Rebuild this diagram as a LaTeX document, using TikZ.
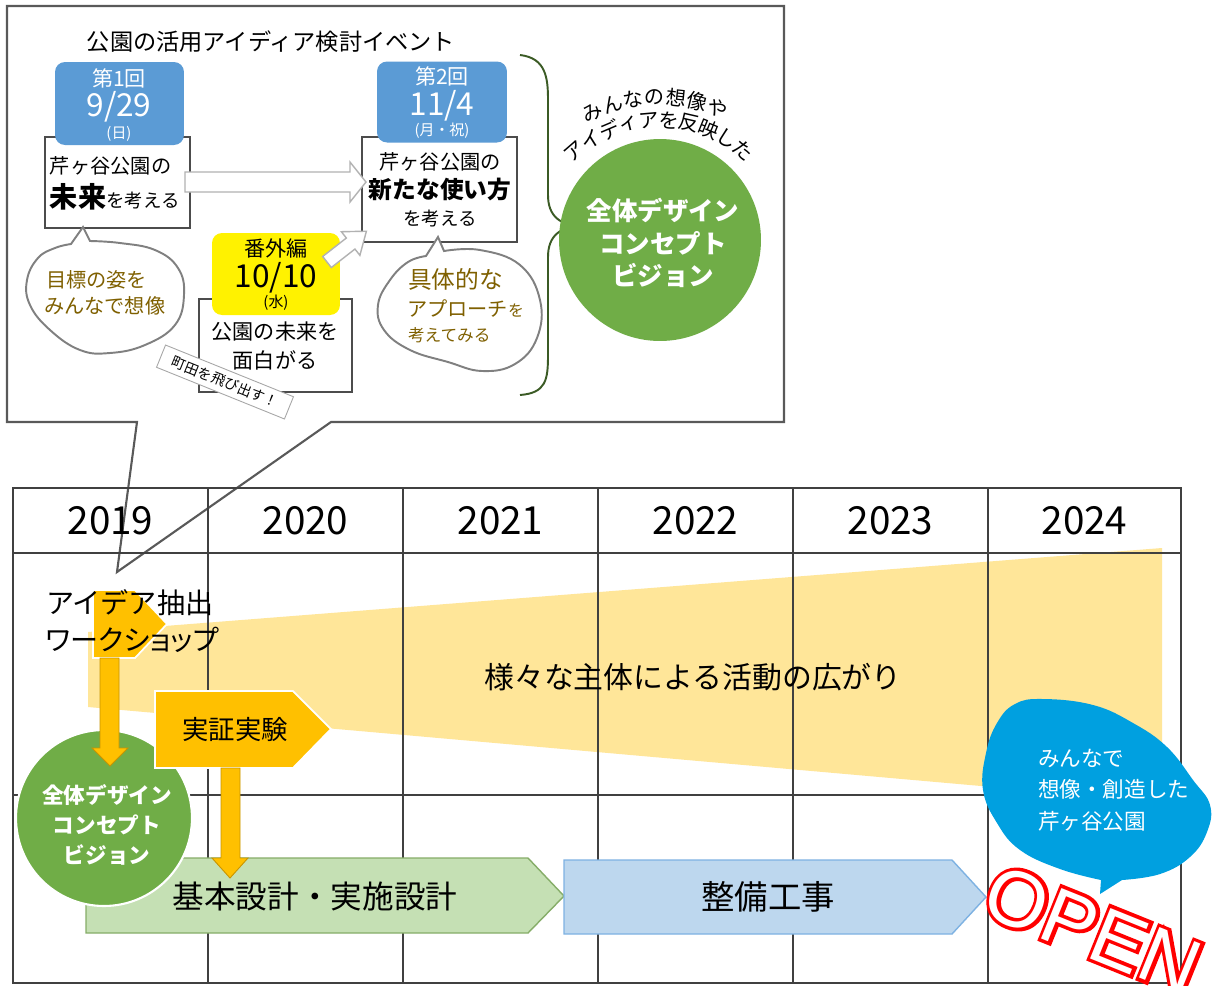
\documentclass[tikz,border=0pt]{standalone}
\usepackage{fontspec}
\setmainfont{Noto Sans CJK JP}
\newfontfamily\openfont{Liberation Sans}
\newfontfamily\openfat[FakeBold=9]{Liberation Sans}
\usetikzlibrary{calc}
\definecolor{boxblue}{HTML}{5B9BD5}
\definecolor{green1}{HTML}{70AD47}
\definecolor{bracegreen}{HTML}{3B5B25}
\definecolor{goldc}{HTML}{FFC000}
\definecolor{golddark}{HTML}{C89400}
\definecolor{bandc}{HTML}{FFE699}
\definecolor{lgreen}{HTML}{C5E0B4}
\definecolor{lgreenline}{HTML}{86AD68}
\definecolor{lblue}{HTML}{BDD7EE}
\definecolor{lblueline}{HTML}{7EB2E2}
\definecolor{bubbleblue}{HTML}{00A0E0}
\definecolor{goldtext}{HTML}{7F6000}
\newcommand\fsz[2]{\fontsize{#1}{#2}\selectfont}
\begin{document}
\begin{tikzpicture}[x=0.02cm, y=-0.02cm,
  txt/.style={inner sep=0pt, outer sep=0pt},
  wbox/.style={draw=black!70, line width=0.6pt, fill=white, inner sep=0pt},
  rbox/.style={rounded corners=0.2cm, inner sep=0pt},
  bubble/.style={draw=black!50, line width=1.1pt, fill=white},
  gridline/.style={draw=black!75, line width=0.9pt},
  callout/.style={draw=black!65, line width=1.2pt},
  blockarrow/.style={fill=white, draw=black!30, line width=0.8pt},
  darrow/.style={fill=goldc, draw=golddark, line width=0.5pt},
  arcchar/.style={txt, font=\fsz{11.5}{13}}
]
\useasboundingbox (0,0) rectangle (1214,985);
\fill[white] (0,0) rectangle (1214,985);

% ---------------- callout ----------------
\draw[callout] (137,422) -- (7,422) -- (7,6) -- (784,6) -- (784,422) -- (331,422) -- (117,572) -- cycle;

\node[wbox, minimum width=2.9cm, minimum height=1.82cm] (w1) at (117.5,182.5) {};
\node[wbox, minimum width=3.1cm, minimum height=2.1cm] (w2) at (439.5,189.5) {};
\node[wbox, minimum width=3.06cm, minimum height=1.86cm] (w3) at (275.5,345.5) {};

\node[rbox, fill=boxblue, minimum width=2.58cm, minimum height=1.66cm] (blue1) at (119.5,103.5) {};
\node[rbox, fill=boxblue, minimum width=2.6cm, minimum height=1.62cm] (blue2) at (442,102) {};
\node[rbox, fill=yellow, minimum width=2.56cm, minimum height=1.64cm] (yel) at (276,274) {};

% block arrows
\draw[blockarrow] (185,172) -- (350,172) -- (350,162) -- (366,182) -- (350,202) -- (350,192) -- (185,192) -- cycle;
\begin{scope}[shift={(327,262)}, rotate=38]
\draw[blockarrow] (0,-7) -- (30,-7) -- (30,-15) -- (50,0) -- (30,15) -- (30,7) -- (0,7) -- cycle;
\end{scope}

% bubbles
\draw[bubble] (83,227) -- plot[smooth, tension=0.7] coordinates {(90,241) (120,243) (155,250) (178,268) (184,295) (175,325) (145,345) (110,353) (80,350) (50,330) (30,305) (27,280) (38,258) (55,248) (71,244)} -- cycle;
\draw[bubble] (438,237) -- plot[smooth, tension=0.7] coordinates {(444,251) (480,250) (520,265) (540,300) (537,338) (515,364) (482,371) (448,362) (410,350) (384,330) (378,305) (390,280) (408,262) (426,256)} -- cycle;

% texts in callout
\node[txt, font=\fsz{13.2}{15}] (title) at (271,42) {公園の活用アイディア検討イベント};

\node[txt, text=white, font=\fsz{12}{14}] (n1a) at (119,78) {第1回};
\node[txt, text=white, font=\fsz{18}{20}] (n1b) at (119,107) {9/29};
\node[txt, text=white, font=\fsz{8.5}{9}] (n1c) at (119,134) {(日)};
\node[txt, anchor=west, font=\fsz{11.5}{13}] (w1a) at (50,166) {芹ヶ谷公園の};
\node[txt, anchor=west] (w1b) at (50,197) {{\bfseries\fsz{16}{18}未来}{\fsz{10.5}{12}を考える}};

\node[txt, text=white, font=\fsz{12}{14}] (n2a) at (442,76) {第2回};
\node[txt, text=white, font=\fsz{18}{20}] (n2b) at (442,106) {11/4};
\node[txt, text=white, font=\fsz{8.5}{9}] (n2c) at (442,131) {(月・祝)};
\node[txt, font=\fsz{11.5}{13}] (w2a) at (440,162) {芹ヶ谷公園の};
\node[txt, font=\bfseries\fsz{13.5}{15}] (w2b) at (440,190) {新たな使い方};
\node[txt, font=\fsz{10.5}{12}] (w2c) at (440,219) {を考える};

\node[txt, font=\fsz{12}{14}] (n3a) at (276,248) {番外編};
\node[txt, font=\fsz{18}{20}] (n3b) at (276,278) {10/10};
\node[txt, font=\fsz{8.5}{9}] (n3c) at (276,303) {(水)};
\node[txt, font=\fsz{12}{14}] (w3a) at (275,332) {公園の未来を};
\node[txt, font=\fsz{12}{14}] (w3b) at (275,360) {面白がる};

\node[txt, anchor=west, text=goldtext, font=\fsz{11.5}{13}] (b1a) at (46,280) {目標の姿を};
\node[txt, anchor=west, text=goldtext, font=\fsz{11.5}{13}] (b1b) at (44,306) {みんなで想像};
\node[txt, anchor=west, text=goldtext, font=\fsz{13.5}{15}] (b2a) at (408,279) {具体的な};
\node[txt, anchor=west, text=goldtext] (b2b) at (407,309) {{\fsz{11.5}{13}アプローチ}{\fsz{9}{10}を}};
\node[txt, anchor=west, text=goldtext, font=\fsz{9.5}{11}] (b2c) at (408,335) {考えてみる};

% brace
\draw[bracegreen, line width=1.1pt] (520,55) .. controls (546,58) and (548,78) .. (548,100) -- (548,195) .. controls (548,216) and (560,226) .. (583,226) .. controls (560,226) and (548,236) .. (548,257) -- (548,355) .. controls (548,380) and (546,393) .. (520,395);

% circle 1
\node[circle, fill=green1, minimum size=4.04cm, inner sep=0pt] (c1) at (660,240) {};
\node[txt, text=white, align=center, font=\bfseries\fsz{14.5}{18.7}] (c1t) at (663,243) {全体デザイン\\コンセプト\\ビジョン};

\foreach \c [count=\i] in {み,ん,な,の,想,像,や} {
  \pgfmathsetmacro\ang{116-(\i-1)*8}
  \pgfmathsetmacro\rot{\ang-90}
  \node[arcchar, rotate=\rot] (la\i) at ($(660,250)+(-\ang:153)$) {\c};
}
\foreach \c [count=\i] in {ア,イ,デ,ィ,ア,を,反,映,し,た} {
  \pgfmathsetmacro\ang{131-(\i-1)*9}
  \pgfmathsetmacro\rot{\ang-90}
  \node[arcchar, rotate=\rot] (lb\i) at ($(660,250)+(-\ang:130)$) {\c};
}

% tag
\node[draw=black!35, fill=white, line width=0.5pt, rotate=-22, minimum width=2.76cm, minimum height=0.48cm, inner sep=0pt, font=\fsz{8}{9}] (tag) at (225,382) {町田を飛び出す！};

% ---------------- timeline ----------------
\fill[bandc] (88,632) -- (1162,548) -- (1162,802) -- (88,707) -- cycle;

\draw[gridline] (13,488) rectangle (1181,983);
\draw[gridline] (13,553) -- (1181,553);
\draw[gridline] (13,795) -- (1181,795);
\foreach \gx in {208,403,598,793,988} \draw[gridline] (\gx,488) -- (\gx,983);

\foreach \yr/\cx in {2019/110.5,2020/305.5,2021/500.5,2022/695.5,2023/890.5,2024/1084.5}
  \node[txt, font=\fsz{22}{24}] (y\yr) at (\cx,521) {\yr};

% bars
\draw[fill=lgreen, draw=lgreenline, line width=0.8pt] (86,858) -- (528,858) -- (564,896) -- (528,933) -- (86,933) -- cycle;
\draw[fill=lblue, draw=lblueline, line width=0.8pt] (564,860) -- (952,860) -- (986,897) -- (952,934) -- (564,934) -- cycle;

\node[circle, fill=green1, draw=white, line width=1.2pt, minimum size=3.52cm, inner sep=0pt] (c2) at (104,818) {};

\draw[fill=goldc, draw=white, line width=1pt] (93,590) -- (135,590) -- (167,624) -- (135,658) -- (93,658) -- cycle;
\draw[darrow] (100,658) -- (119,658) -- (119,748) -- (128,748) -- (110,766) -- (92,748) -- (100,748) -- cycle;

\draw[fill=goldc, draw=white, line width=1pt] (155,691) -- (293,691) -- (331,729) -- (293,768) -- (155,768) -- cycle;
\draw[darrow] (221,768) -- (240,768) -- (240,858) -- (248,858) -- (230,878) -- (212,858) -- (221,858) -- cycle;

\node[txt, anchor=west, align=left, font=\fsz{16}{21}] (ws) at (46,621) {アイデア抽出\\{\addfontfeature{RawFeature=+palt}ワークショップ}};
\node[txt, font=\fsz{17}{19}] (band) at (693,677) {様々な主体による活動の広がり};
\node[txt, font=\fsz{15}{17}] (jsk) at (235,729) {実証実験};
\node[txt, text=white, align=center, font=\bfseries\fsz{12.3}{17}] (c2t) at (107,825) {全体デザイン\\コンセプト\\ビジョン};
\node[txt, font=\fsz{18}{20}] (kihon) at (315,896) {基本設計・実施設計};
\node[txt, font=\fsz{19}{21}] (seibi) at (768,897) {整備工事};

% blue bubble
\fill[bubbleblue] (1100,894) -- plot[smooth, tension=0.7] coordinates {(1101,880) (1060,869) (1020,850) (997,823) (983,790) (986,753) (997,723) (1015,704) (1043,699) (1093,705) (1133,723) (1167,747) (1193,780) (1210,805) (1207,832) (1190,857) (1160,874) (1122,880)} -- cycle;
\node[txt, anchor=west, align=left, text=white, font=\fsz{12.3}{18}] (bb) at (1038,790) {みんなで\\想像・創造した\\芹ヶ谷公園};

\node[txt, rotate=-22, font=\fsz{45}{50}] (open) at (1093,930) {\rlap{\openfat\color{red}OPEN}{\openfont\color{white}OPEN}};
\end{tikzpicture}
\end{document}
